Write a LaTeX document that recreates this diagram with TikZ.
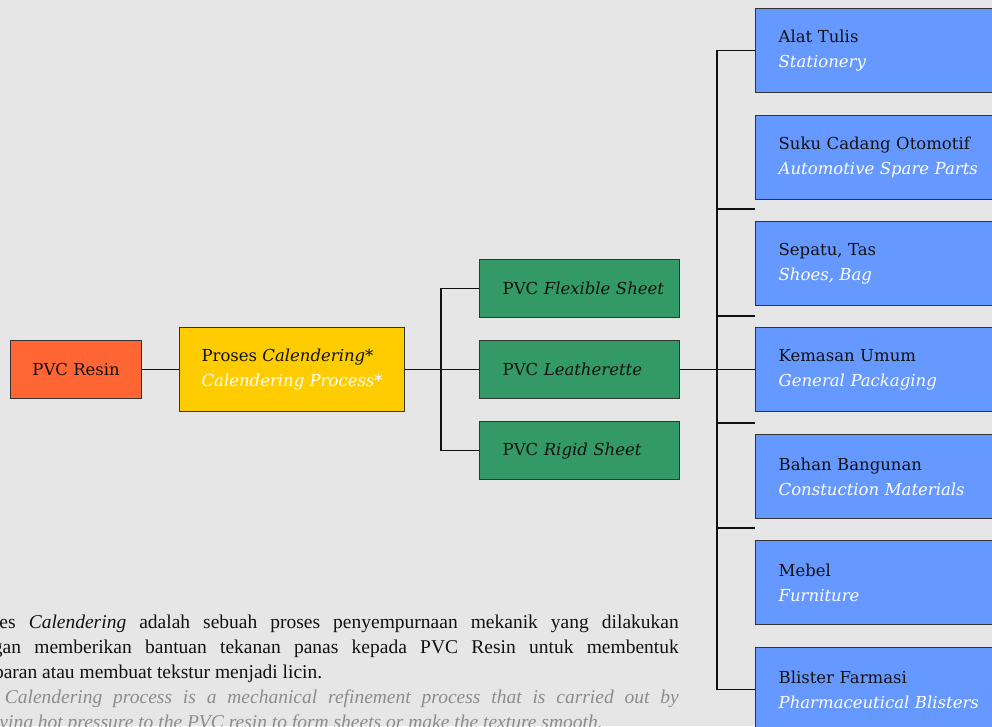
\documentclass[tikz,border=0pt]{standalone}
\usepackage{fontspec}
\setmainfont{DejaVu Serif}
\newfontfamily\parafont{Liberation Serif}
\definecolor{bgcol}{HTML}{E6E6E6}
\definecolor{edgecol}{HTML}{333333}
\definecolor{resincol}{HTML}{FF6633}
\definecolor{calcol}{HTML}{FFCC00}
\definecolor{greencol}{HTML}{339966}
\definecolor{bluecol}{HTML}{6699FF}
\definecolor{inkcol}{HTML}{111111}
\definecolor{greytext}{HTML}{8C8C8C}
\newcommand{\bilabel}[2]{\mbox{#1}\\\mbox{\color{white}\itshape #2}}
\begin{document}
\begin{tikzpicture}[x=1pt,y=-1pt,
  boxfont/.style={font=\fontsize{16.5}{25}\selectfont, text=inkcol},
  basebox/.style={draw=edgecol, line width=1.3pt, anchor=north west, boxfont},
  resinbox/.style={basebox, fill=resincol, minimum width=131pt, minimum height=58pt},
  calbox/.style={basebox, fill=calcol, minimum width=225pt, minimum height=84pt, align=left},
  greenbox/.style={basebox, fill=greencol, minimum height=58pt, inner xsep=23pt, text width=154pt, align=left},
  bluebox/.style={basebox, fill=bluecol, minimum height=84pt, inner xsep=23pt, text width=215pt, align=left},
  link/.style={draw=inkcol, line width=1.2pt}
]
\useasboundingbox (0,0) rectangle (992,726);
\fill[bgcol] (0,0) rectangle (992,726);
\clip (0,0) rectangle (992,726);

% left chain
\node[resinbox] (resin) at (10,340) {PVC Resin};
\node[calbox] (cal) at (179,327) {\bilabel{Proses \textit{Calendering}*}{Calendering Process*}};

% green sheets
\node[greenbox] (flex) at (479,259) {\mbox{PVC \textit{Flexible Sheet}}};
\node[greenbox] (leath) at (479,340) {\mbox{PVC \textit{Leatherette}}};
\node[greenbox] (rigid) at (479,421) {\mbox{PVC \textit{Rigid Sheet}}};

% blue applications
\node[bluebox] (b1) at (755,8) {\bilabel{Alat Tulis}{Stationery}};
\node[bluebox] (b2) at (755,115) {\bilabel{Suku Cadang Otomotif}{Automotive Spare Parts}};
\node[bluebox] (b3) at (755,221) {\bilabel{Sepatu, Tas}{Shoes, Bag}};
\node[bluebox] (b4) at (755,327) {\bilabel{Kemasan Umum}{General Packaging}};
\node[bluebox] (b5) at (755,434) {\bilabel{Bahan Bangunan}{Constuction Materials}};
\node[bluebox] (b6) at (755,540) {\bilabel{Mebel}{Furniture}};
\node[bluebox] (b7) at (755,647) {\bilabel{Blister Farmasi}{Pharmaceutical Blisters}};

% connectors
\coordinate (j1) at (441,369);
\coordinate (j2) at (717,369);
\coordinate (t1) at (755,209);
\coordinate (t2) at (755,316);
\coordinate (t3) at (755,423);
\coordinate (t4) at (755,528);
\draw[link] (resin.east) -- (cal.west);
\draw[link] (cal.east) -- (leath.west);
\draw[link] (flex.west) -| (j1) |- (rigid.west);
\draw[link] (leath.east) -- (b4.west);
\draw[link] (b1.west) -| (j2) |- (b7.west);
\draw[link] (j2 |- t1) -- (t1);
\draw[link] (j2 |- t2) -- (t2);
\draw[link] (j2 |- t3) -- (t3);
\draw[link] (j2 |- t4) -- (t4);

% footnote paragraph
\node[anchor=north east, inner sep=0pt, text width=714pt, align=justify,
      font=\parafont\fontsize{19.5}{25}\selectfont, text=inkcol] (note) at (679,615)
{Proses \textit{Calendering} adalah sebuah proses penyempurnaan mekanik yang dilakukan\linebreak
dengan memberikan bantuan tekanan panas kepada PVC Resin untuk membentuk\linebreak
lembaran atau membuat tekstur menjadi licin.\par
{\color{greytext}\itshape The Calendering process is a mechanical refinement process that is carried out by\linebreak
applying hot pressure to the PVC resin to form sheets or make the texture smooth.\par}};
\end{tikzpicture}
\end{document}
